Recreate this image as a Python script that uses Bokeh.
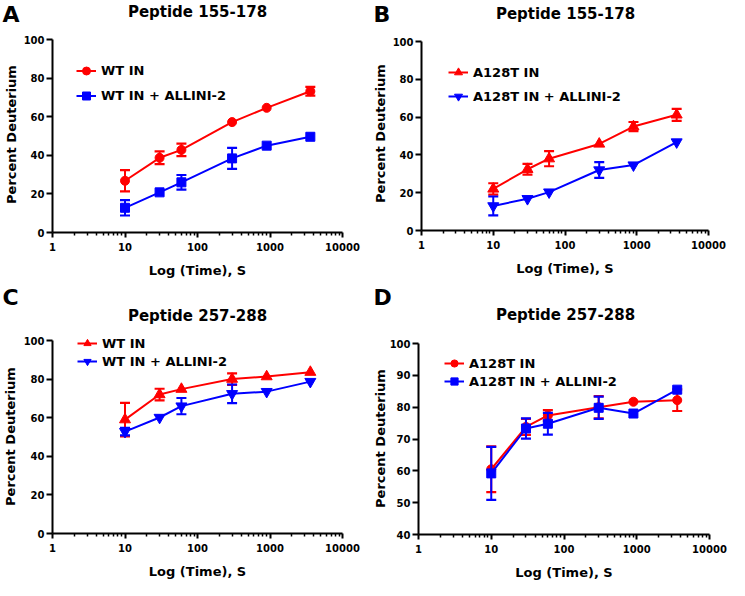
import math
from bokeh.plotting import figure
from bokeh.models import (Range1d, FixedTicker, NumeralTickFormatter, Label,
                          Legend, LegendItem)
from bokeh.layouts import gridplot
from bokeh.embed import file_html
from bokeh.resources import INLINE

FONT = "DejaVu Sans"
RED = "#ff0000"
BLUE = "#0000ff"

# ---------------- data ----------------
times = [10, 30, 60, 300, 900, 3600]
x_ticks = [1, 10, 100, 1000, 10000]
x_minor = [m * d for d in [1, 10, 100, 1000] for m in range(2, 10)]

# Panel A: Peptide 155-178
a_labels = ["WT IN", "WT IN + ALLINI-2"]
a_red = [26.8, 38.7, 42.8, 57.2, 64.6, 73.2]
a_red_err = [5.5, 3.3, 3.2, 0, 0, 2.3]
a_blue = [12.8, 20.8, 26.0, 38.4, 45.0, 49.6]
a_blue_err = [4.0, 0, 3.8, 5.4, 0, 0]

# Panel B: Peptide 155-178
b_labels = ["A128T IN", "A128T IN + ALLINI-2"]
b_red = [22.0, 32.4, 38.0, 45.8, 55.0, 61.2]
b_red_err = [3.0, 2.8, 4.0, 0, 2.4, 3.2]
b_blue = [13.0, 16.8, 20.3, 32.0, 34.6, 46.8]
b_blue_err = [5.0, 0, 0, 4.2, 0, 0]

# Panel C: Peptide 257-288
c_labels = ["WT IN", "WT IN + ALLINI-2"]
c_red = [59.0, 72.0, 74.8, 80.0, 81.3, 83.6]
c_red_err = [8.7, 3.0, 0, 3.0, 0, 0]
c_blue = [52.8, 60.1, 66.0, 72.4, 73.5, 78.7]
c_blue_err = [2.0, 0, 4.2, 4.8, 0, 0]

# Panel D: Peptide 257-288
d_labels = ["A128T IN", "A128T IN + ALLINI-2"]
d_red = [60.5, 73.8, 77.4, 80.0, 81.7, 82.2]
d_red_err = [7.2, 2.5, 1.7, 3.5, 0, 3.4]
d_blue = [59.2, 73.3, 74.8, 79.8, 78.0, 85.5]
d_blue_err = [8.3, 3.2, 3.4, 3.5, 0, 0]

y_ticks_100 = [0, 20, 40, 60, 80, 100]
y_ticks_d = [40, 50, 60, 70, 80, 90, 100]

# ---------------- layout (reference pixel -> cell pixel) ----------------
COL_OFF = [0, 364]
ROW_OFF = [0, 284]
CELL_W = [364, 365]
CELL_H = [284, 296]
XSHIFT = [1, 16]
YSHIFT = [1, 16]
BASE_FIX = 0.33  # baseline correction, in em


def cx(ref, col):
    return ref - XSHIFT[col] - COL_OFF[col]


def cy(ref, row):
    return ref - YSHIFT[row] - ROW_OFF[row]


def series(p, ys, errs, color, marker, msize):
    xe = [t for t, e in zip(times, errs) if e > 0]
    lo = [y - e for y, e in zip(ys, errs) if e > 0]
    hi = [y + e for y, e in zip(ys, errs) if e > 0]
    if xe:
        p.segment(x0=xe, x1=xe, y0=lo, y1=hi, line_color=color, line_width=2)
        p.scatter(x=xe + xe, y=lo + hi, marker="dash", size=10,
                  line_color=color, line_width=2.2)
    ln = p.line(x=times, y=ys, line_color=color, line_width=2)
    sc = p.scatter(x=times, y=ys, marker=marker, size=msize,
                   fill_color=color, line_color=color)
    return ln, sc


def text(p, x, y, s, fs, align="left", angle=0.0):
    # (x, y): baseline point in cell pixels measured from the top-left
    H = p.height
    if angle == 0.0:
        sx, sy = x, H - y + BASE_FIX * fs
    else:
        sx, sy = x - BASE_FIX * fs, H - y
    p.add_layout(Label(x=sx, y=sy, x_units="screen", y_units="screen", text=s,
                       text_font=FONT, text_font_style="bold",
                       text_font_size=f"{fs}px", text_color="black",
                       text_align=align, text_baseline="alphabetic",
                       angle=angle))


def panel(col, row, letter, title, labels, red, red_err, blue, blue_err,
          markers, yr, yticks, xaxis_ref, yaxis_ref, letter_ref, title_ref,
          ylabel_ref, xlabel_base_ref, leg_ref, leg_pitch):
    W = CELL_W[col]
    H = CELL_H[row]
    xa, xb = cx(xaxis_ref[0], col), cx(xaxis_ref[1], col)
    yt, yb = cy(yaxis_ref[0], row), cy(yaxis_ref[1], row)
    dec = (xb - xa) / 4.0
    x_start = 10 ** (-xa / dec)
    x_end = 10 ** ((W - xa) / dec)
    k = (yr[1] - yr[0]) / (yb - yt)
    y_start = yr[0] - (H - yb) * k
    y_end = yr[1] + yt * k

    p = figure(width=W, height=H, x_axis_type="log",
               x_range=Range1d(x_start, x_end), y_range=Range1d(y_start, y_end),
               output_backend="svg", toolbar_location=None, min_border=0)
    p.title.visible = False
    p.outline_line_color = None
    p.grid.visible = False
    p.background_fill_color = "white"
    p.border_fill_color = "white"

    r1 = series(p, red, red_err, RED, markers[0], markers[2])
    r2 = series(p, blue, blue_err, BLUE, markers[1], markers[3])

    for ax in (p.xaxis[0], p.yaxis[0]):
        ax.axis_line_width = 2
        ax.axis_line_color = "black"
        ax.major_tick_line_width = 2
        ax.major_tick_line_color = "black"
        ax.minor_tick_line_width = 1.5
        ax.minor_tick_line_color = "black"
        ax.major_tick_in = 0
        ax.minor_tick_in = 0
        ax.major_label_text_font = FONT
        ax.major_label_text_font_style = "bold"
        ax.major_label_text_font_size = "10px"
        ax.major_label_text_color = "black"
    p.xaxis.ticker = FixedTicker(ticks=x_ticks, minor_ticks=x_minor)
    p.xaxis.formatter = NumeralTickFormatter(format="0")
    p.xaxis.bounds = (x_ticks[0], x_ticks[-1])
    p.xaxis.fixed_location = yr[0]
    p.xaxis.major_tick_out = 5
    p.xaxis.minor_tick_out = 3
    p.xaxis.major_label_standoff = 5
    p.yaxis.ticker = FixedTicker(ticks=yticks, minor_ticks=[])
    p.yaxis.bounds = (yr[0], yr[1])
    p.yaxis.fixed_location = x_ticks[0]
    p.yaxis.major_tick_out = 6
    p.yaxis.minor_tick_out = 0
    p.yaxis.major_label_standoff = 2

    text(p, cx(letter_ref[0], col), cy(letter_ref[1], row), letter, 22)
    text(p, cx(title_ref[0], col), cy(title_ref[1], row), title, 15,
         align="center")
    text(p, (xa + xb) / 2, cy(xlabel_base_ref, row), "Log (Time), S", 13,
         align="center")
    text(p, cx(ylabel_ref[0], col), cy(ylabel_ref[1], row),
         "Percent Deuterium", 13, align="center", angle=math.pi / 2)

    h = int(leg_pitch)
    gx = cx(leg_ref[0], col)
    r1c = cy(leg_ref[1], row)
    legend = Legend(items=[LegendItem(label=labels[0], renderers=list(r1)),
                           LegendItem(label=labels[1], renderers=list(r2))],
                    location=(round(gx), round(H - (r1c + 1.5 * h))),
                    glyph_width=20, glyph_height=h, label_height=h,
                    spacing=0, padding=0, margin=0, label_standoff=5,
                    border_line_color=None, background_fill_alpha=0,
                    label_text_font=FONT, label_text_font_style="bold",
                    label_text_font_size="13px", label_text_color="black")
    p.add_layout(legend)
    return p


pA = panel(0, 0, "A", "Peptide 155-178", a_labels, a_red, a_red_err, a_blue,
           a_blue_err, ("circle", "square", 9, 9), (0, 100), y_ticks_100,
           (53, 343), (40, 233), (3, 22), (198, 17), (16, 135), 275,
           (77, 72), 25)
pB = panel(1, 0, "B", "Peptide 155-178", b_labels, b_red, b_red_err, b_blue,
           b_blue_err, ("triangle", "inverted_triangle", 11, 11), (0, 100),
           y_ticks_100, (437, 724), (42, 231), (389, 22), (581, 19),
           (400, 134), 273, (464, 73), 24)
pC = panel(0, 1, "C", "Peptide 257-288", c_labels, c_red, c_red_err, c_blue,
           c_blue_err, ("triangle", "inverted_triangle", 11, 11), (0, 100),
           y_ticks_100, (53, 343), (356, 549), (3, 320), (198, 336),
           (15, 452), 591, (78, 359), 18)
pD = panel(1, 1, "D", "Peptide 257-288", d_labels, d_red, d_red_err, d_blue,
           d_blue_err, ("circle", "square", 9, 9), (40, 100), y_ticks_d,
           (434, 725), (359, 550), (389, 320), (581, 335), (400, 454),
           592, (460, 379), 18)

grid = gridplot([[pA, pB], [pC, pD]], toolbar_location=None)
open("out.html", "w").write(file_html(grid, INLINE))
